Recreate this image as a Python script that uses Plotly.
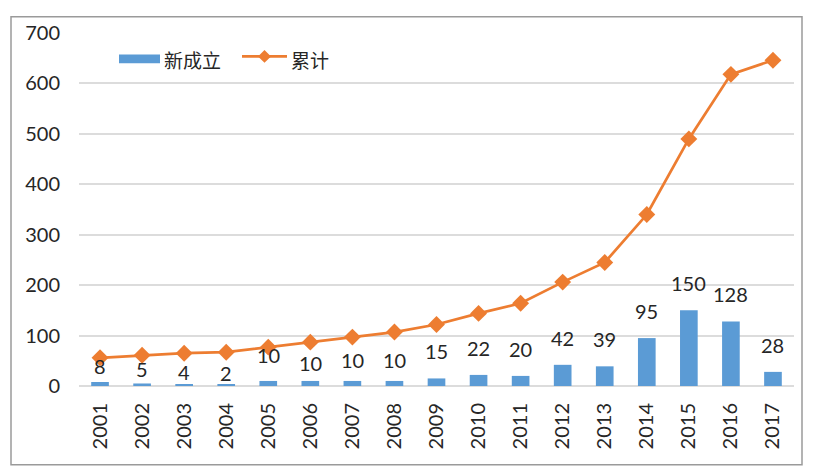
import plotly.graph_objects as go

years = ["2001", "2002", "2003", "2004", "2005", "2006", "2007", "2008", "2009",
         "2010", "2011", "2012", "2013", "2014", "2015", "2016", "2017"]
new_est = [8, 5, 4, 2, 10, 10, 10, 10, 15, 22, 20, 42, 39, 95, 150, 128, 28]
cumulative = [56, 61, 65, 67, 77, 87, 97, 107, 122, 144, 164, 206, 245, 340, 490, 618, 646]
y_ticks = [0, 100, 200, 300, 400, 500, 600, 700]
series_names = ["新成立", "累计"]

# label vertical offsets (px) – styling only
label_shift = [2, 0, -2, -2, 12, 4, 7, 7, 13, 13, 13, 13, 13, 13, 13, 13, 13]

# page has an 8px body margin -> figure is drawn 8px in
W, H = 815, 459
L, R, T, B = 71, 29, 17, 81
pw, ph = W - L - R, H - T - B

NUM_FONT = "Lato, 'Noto Sans CJK SC', sans-serif"
CJK_FONT = "'Noto Sans CJK SC', sans-serif"
TXT = "#262626"
BLUE = "#5B9BD5"
ORANGE = "#ED7D31"

def px_x(p):
    return (p - L) / pw

def px_y(p):
    return (H - B - p) / ph

fig = go.Figure()
fig.add_trace(go.Bar(
    x=years, y=new_est, name=series_names[0],
    marker=dict(color=BLUE, line=dict(width=0)),
    width=0.42, showlegend=False,
))
fig.add_trace(go.Scatter(
    x=years, y=cumulative, name=series_names[1], mode="lines+markers",
    line=dict(color=ORANGE, width=2.75),
    marker=dict(symbol="diamond", size=13, color=ORANGE),
    showlegend=False,
))

for i, (v, s) in enumerate(zip(new_est, label_shift)):
    fig.add_annotation(x=i, y=v, xref="x", yref="y", text=str(v), showarrow=False,
                       yanchor="bottom", yshift=s,
                       font=dict(family=NUM_FONT, size=20, color=TXT))

# outer frame
fig.add_shape(type="rect", xref="paper", yref="paper",
              x0=px_x(3), x1=px_x(794), y0=px_y(458.5), y1=px_y(0.5),
              line=dict(color="#9a9a9a", width=1.5), fillcolor="rgba(0,0,0,0)",
              layer="below")

# custom legend
fig.add_shape(type="rect", xref="paper", yref="paper",
              x0=px_x(111), x1=px_x(152), y0=px_y(48), y1=px_y(39),
              line=dict(width=0), fillcolor=BLUE)
fig.add_annotation(xref="paper", yref="paper", x=px_x(154), y=px_y(44),
                   xanchor="left", yanchor="middle", showarrow=False,
                   text=series_names[0], font=dict(family=CJK_FONT, size=19, color=TXT))
fig.add_shape(type="line", xref="paper", yref="paper",
              x0=px_x(234), x1=px_x(279), y0=px_y(41), y1=px_y(41),
              line=dict(color=ORANGE, width=2.75))
cx, cy, r = 256.5, 41, 6.5
fig.add_shape(type="path", xref="paper", yref="paper",
              path=(f"M {px_x(cx - r)} {px_y(cy)} L {px_x(cx)} {px_y(cy - r)} "
                    f"L {px_x(cx + r)} {px_y(cy)} L {px_x(cx)} {px_y(cy + r)} Z"),
              line=dict(width=0), fillcolor=ORANGE)
fig.add_annotation(xref="paper", yref="paper", x=px_x(281), y=px_y(44),
                   xanchor="left", yanchor="middle", showarrow=False,
                   text=series_names[1], font=dict(family=CJK_FONT, size=19, color=TXT))

fig.update_layout(
    width=W, height=H,
    margin=dict(l=L, r=R, t=T, b=B, pad=0),
    paper_bgcolor="white", plot_bgcolor="white",
    showlegend=False,
    xaxis=dict(type="category", range=[-0.5, len(years) - 0.5], tickangle=-90,
               showgrid=False, showline=False,
               zeroline=False, ticks="", ticklabelstandoff=12,
               tickfont=dict(family=NUM_FONT, size=20, color=TXT)),
    yaxis=dict(range=[0, 700], tickvals=y_ticks, showgrid=True, gridcolor="#DCDCDC",
               gridwidth=1.5, zeroline=True, zerolinecolor="#DCDCDC", zerolinewidth=1.5,
               showline=False, ticks="", ticklabelstandoff=18,
               tickfont=dict(family=NUM_FONT, size=20, color=TXT)),
)

fig.write_html("out.html")
